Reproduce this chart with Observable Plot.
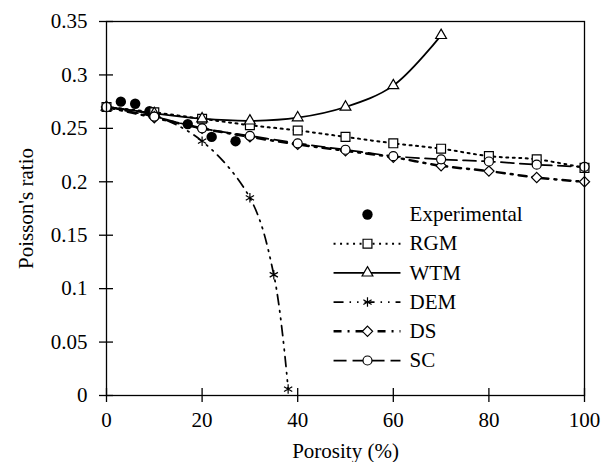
<!DOCTYPE html>
<html><head><meta charset="utf-8">
<script src="https://cdn.jsdelivr.net/npm/d3@7"></script>
<script src="https://cdn.jsdelivr.net/npm/@observablehq/plot@0.6"></script>
<style>
body{margin:0;background:#fff;}
#chart{width:603px;height:462px;}
</style></head><body><div id="chart"></div>
<script>
// ---- data ----
const modelPorosity = [0,10,20,30,40,50,60,70,80,90,100];
const expPorosity = [3,6,9,17,22,27];
const expRatio = [0.275,0.273,0.266,0.254,0.242,0.238];
const rgm = [0.27,0.265,0.259,0.253,0.248,0.242,0.236,0.231,0.224,0.221,0.213];
const wtmPorosity = [0,10,20,30,40,50,60,70];
const wtm = [0.27,0.264,0.259,0.257,0.26,0.27,0.29,0.337];
const demPorosity = [0,10,20,30,35,38];
const dem = [0.27,0.262,0.238,0.185,0.113,0.006];
const ds = [0.27,0.26,0.25,0.242,0.235,0.229,0.223,0.215,0.21,0.204,0.2];
const sc = [0.27,0.261,0.25,0.243,0.236,0.23,0.224,0.221,0.219,0.216,0.214];
const seriesNames = ["Experimental","RGM","WTM","DEM","DS","SC"];
const xTicks = [0,20,40,60,80,100];
const yTicks = [0,0.05,0.1,0.15,0.2,0.25,0.3,0.35];
const xLabel = "Porosity (%)";
const yLabel = "Poisson's ratio";

// ---- styles ----
const styles = {
  RGM: {symbol:"square",   r:5,   dash:"2,4.5",               width:2},
  WTM: {symbol:"triangle", r:4,   dash:null,                  width:1.75},
  DEM: {symbol:"asterisk", r:4.5, dash:"10,6,1.5,6,1.5,6",    width:1.75},
  DS:  {symbol:"diamond2", r:4.6, dash:"8,6,2,6",             width:2.5},
  SC:  {symbol:"circle",   r:4.5, dash:"13,6",                width:1.75}
};
// legend layout (data units)
const legend = {x1:47.5, x2:61.5, xm:54.6, xt:63.4, y0:0.1694, dy:0.02733};

const models = {
  RGM: modelPorosity.map((x,i)=>({x, y:rgm[i]})),
  WTM: wtmPorosity.map((x,i)=>({x, y:wtm[i]})),
  DEM: demPorosity.map((x,i)=>({x, y:dem[i]})),
  DS:  modelPorosity.map((x,i)=>({x, y:ds[i]})),
  SC:  modelPorosity.map((x,i)=>({x, y:sc[i]}))
};
const expRows = expPorosity.map((x,i)=>({x, y:expRatio[i]}));
const legendRows = seriesNames.map((name,i)=>({name, y: legend.y0 - i*legend.dy}));

const marks = [];
for (const name of seriesNames.slice(1)) {
  const s = styles[name];
  marks.push(Plot.line(models[name], {x:"x", y:"y", curve:"catmull-rom", stroke:"black",
    strokeWidth:s.width, strokeDasharray:s.dash}));
}
marks.push(Plot.dot(expRows, {x:"x", y:"y", r:5.2, fill:"black"}));
for (const name of seriesNames.slice(1)) {
  const s = styles[name];
  marks.push(Plot.dot(models[name], {x:"x", y:"y", symbol:s.symbol, r:s.r,
    fill: s.symbol==="asterisk" ? "none" : "white", stroke:"black", strokeWidth:1.2}));
}
// legend
for (const row of legendRows) {
  if (row.name === "Experimental") {
    marks.push(Plot.dot([row], {x:()=>legend.xm, y:"y", r:5.2, fill:"black"}));
  } else {
    const s = styles[row.name];
    marks.push(Plot.link([row], {x1:()=>legend.x1, x2:()=>legend.x2, y1:"y", y2:"y",
      stroke:"black", strokeWidth:s.width, strokeDasharray:s.dash}));
    marks.push(Plot.dot([row], {x:()=>legend.xm, y:"y", symbol:s.symbol, r:s.r,
      fill: s.symbol==="asterisk" ? "none" : "white", stroke:"black", strokeWidth:1.2}));
  }
}
marks.push(Plot.text(legendRows, {x:()=>legend.xt, y:"y", text:"name", textAnchor:"start",
  lineAnchor:"middle", fontSize:21, fill:"black"}));
marks.push(Plot.frame({stroke:"black", strokeWidth:1.3}));
// crossing tick marks
marks.push(Plot.ruleX(xTicks, {x:d=>d, y1:()=>0, y2:()=>0, insetTop:-7, insetBottom:-7,
  stroke:"black", strokeWidth:1.3}));
marks.push(Plot.ruleY(yTicks, {y:d=>d, x1:()=>0, x2:()=>0, insetLeft:-7, insetRight:-7,
  stroke:"black", strokeWidth:1.3}));
marks.push(Plot.axisX({ticks:xTicks, tickSize:0, tickPadding:17,
  fontSize:21, label:xLabel, labelAnchor:"center", labelOffset:62, labelArrow:"none"}));
marks.push(Plot.axisY({ticks:yTicks, tickSize:0, tickPadding:19,
  fontSize:21, tickFormat:d=>String(+d.toFixed(2)),
  label:yLabel, labelAnchor:"center", labelOffset:88, labelArrow:"none"}));

const chart = Plot.plot({
  width:603, height:462,
  marginLeft:106, marginRight:19, marginTop:21, marginBottom:67,
  style:{fontFamily:"'Liberation Serif','Times New Roman',serif", fontSize:"21px", color:"black", background:"white"},
  x:{domain:[0,100]},
  y:{domain:[0,0.35]},
  marks
});
document.getElementById("chart").appendChild(chart);
</script></body></html>
